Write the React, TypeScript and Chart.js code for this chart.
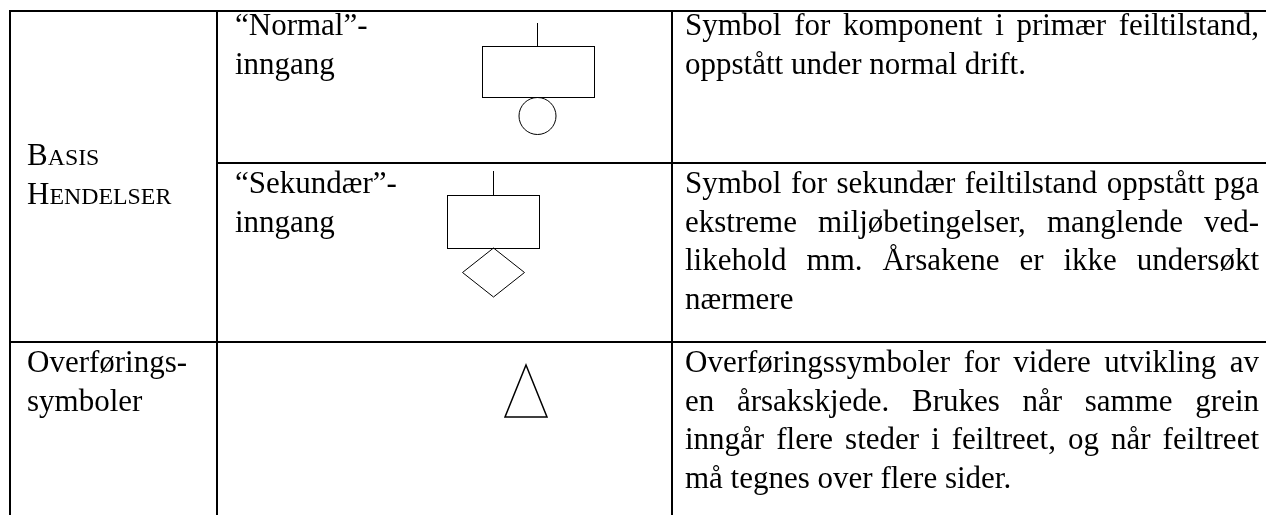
import React, { useEffect, useRef } from "react";
import { Chart, registerables } from "chart.js";

Chart.register(...registerables);

// ---- content ----
const groupLabels: string[][] = [
  ["Basis", "Hendelser"],
  ["Overførings-", "symboler"],
];
const groupSmallCaps: boolean[] = [true, false];
const entryNames: string[][] = [["“Normal”-", "inngang"], ["“Sekundær”-", "inngang"], []];
const symbolKinds: string[] = ["normal", "secondary", "transfer"];
const descriptions: string[][] = [
  ["Symbol for komponent i primær feiltilstand,", "oppstått under normal drift."],
  [
    "Symbol for sekundær feiltilstand oppstått pga",
    "ekstreme miljøbetingelser, manglende ved-",
    "likehold mm. Årsakene er ikke undersøkt",
    "nærmere",
  ],
  [
    "Overføringssymboler for videre utvikling av",
    "en årsakskjede. Brukes når samme grein",
    "inngår flere steder i feiltreet, og når feiltreet",
    "må tegnes over flere sider.",
  ],
];

// ---- layout (pixel units of the hidden linear scales) ----
const W = 1266;
const H = 515;
const LAYOUT = {
  colX: [10, 217, 672, 1280],
  rowY: [11, 163, 342, 540],
  textX: [27, 235, 685],
  textRight: 1259,
  rowBaseline: [35, 193, 372],
  groupBaseline: [165, 372],
  lineH: 38.5,
  fontSize: 31,
  smallCapsRatio: 0.77,
  symbolX: [537, 493, 526],
};
const FONT_FAMILY = '"Liberation Serif", "Times New Roman", serif';

function drawSmallCaps(ctx: CanvasRenderingContext2D, text: string, x: number, y: number, size: number) {
  const first = text.charAt(0).toUpperCase();
  const rest = text.slice(1).toUpperCase();
  ctx.font = `${size}px ${FONT_FAMILY}`;
  ctx.fillText(first, x, y);
  const w = ctx.measureText(first).width;
  ctx.font = `${size * LAYOUT.smallCapsRatio}px ${FONT_FAMILY}`;
  ctx.fillText(rest, x + w, y);
}

function drawJustified(ctx: CanvasRenderingContext2D, line: string, x: number, right: number, y: number, justify: boolean) {
  if (!justify) {
    ctx.fillText(line, x, y);
    return;
  }
  const words = line.split(" ");
  const widths = words.map((w) => ctx.measureText(w).width);
  const total = widths.reduce((a, b) => a + b, 0);
  const gap = words.length > 1 ? (right - x - total) / (words.length - 1) : 0;
  let cx = x;
  words.forEach((w, i) => {
    ctx.fillText(w, cx, y);
    cx += widths[i] + gap;
  });
}

const tablePlugin = {
  id: "tablePlugin",
  afterDraw(chart: any) {
    const ctx: CanvasRenderingContext2D = chart.ctx;
    const sx = chart.scales.x;
    const sy = chart.scales.y;
    const X = (v: number) => sx.getPixelForValue(v);
    const Y = (v: number) => sy.getPixelForValue(v);
    const L = LAYOUT;
    ctx.save();

    // borders
    ctx.strokeStyle = "#000";
    ctx.lineWidth = 2;
    ctx.lineCap = "butt";
    const seg = (x1: number, y1: number, x2: number, y2: number) => {
      ctx.beginPath();
      ctx.moveTo(X(x1), Y(y1));
      ctx.lineTo(X(x2), Y(y2));
      ctx.stroke();
    };
    seg(L.colX[0] - 1, L.rowY[0], L.colX[3], L.rowY[0]);
    seg(L.colX[1], L.rowY[1], L.colX[3], L.rowY[1]);
    seg(L.colX[0] - 1, L.rowY[2], L.colX[3], L.rowY[2]);
    for (let c = 0; c < 3; c++) seg(L.colX[c], L.rowY[0] - 1, L.colX[c], L.rowY[3]);

    // text
    ctx.fillStyle = "#000";
    ctx.textBaseline = "alphabetic";
    ctx.textAlign = "left";
    const fs = L.fontSize;

    groupLabels.forEach((lines, g) => {
      lines.forEach((ln, i) => {
        const y = Y(L.groupBaseline[g] + i * L.lineH);
        if (groupSmallCaps[g]) drawSmallCaps(ctx, ln, X(L.textX[0]), y, fs);
        else {
          ctx.font = `${fs}px ${FONT_FAMILY}`;
          ctx.fillText(ln, X(L.textX[0]), y);
        }
      });
    });

    ctx.font = `${fs}px ${FONT_FAMILY}`;
    entryNames.forEach((lines, r) => {
      lines.forEach((ln, i) => {
        ctx.fillText(ln, X(L.textX[1]), Y(L.rowBaseline[r] + i * L.lineH));
      });
    });

    descriptions.forEach((lines, r) => {
      lines.forEach((ln, i) => {
        drawJustified(ctx, ln, X(L.textX[2]), X(L.textRight), Y(L.rowBaseline[r] + i * L.lineH), i < lines.length - 1);
      });
    });

    // symbols
    ctx.lineWidth = 1;
    ctx.strokeStyle = "#000";
    symbolKinds.forEach((kind, r) => {
      const cx = L.symbolX[r];
      if (kind === "normal") {
        ctx.beginPath();
        ctx.moveTo(X(cx) + 0.5, Y(23));
        ctx.lineTo(X(cx) + 0.5, Y(46));
        ctx.stroke();
        ctx.strokeRect(X(cx - 55) + 0.5, Y(46) + 0.5, 112, 51);
        ctx.beginPath();
        ctx.arc(X(cx) + 0.5, Y(116), 18.5, 0, Math.PI * 2);
        ctx.stroke();
      } else if (kind === "secondary") {
        ctx.beginPath();
        ctx.moveTo(X(cx) + 0.5, Y(171));
        ctx.lineTo(X(cx) + 0.5, Y(195));
        ctx.stroke();
        ctx.strokeRect(X(cx - 46) + 0.5, Y(195) + 0.5, 92, 53);
        ctx.beginPath();
        ctx.moveTo(X(cx) + 0.5, Y(248));
        ctx.lineTo(X(cx + 31) + 0.5, Y(272.5));
        ctx.lineTo(X(cx) + 0.5, Y(297));
        ctx.lineTo(X(cx - 31) + 0.5, Y(272.5));
        ctx.closePath();
        ctx.stroke();
      } else if (kind === "transfer") {
        ctx.lineWidth = 1.5;
        ctx.beginPath();
        ctx.moveTo(X(cx), Y(365));
        ctx.lineTo(X(cx + 21), Y(417));
        ctx.lineTo(X(cx - 21), Y(417));
        ctx.closePath();
        ctx.stroke();
      }
    });

    ctx.restore();
  },
};

export default function App() {
  const ref = useRef<HTMLCanvasElement | null>(null);
  useEffect(() => {
    document.body.style.margin = "0";
    const canvas = ref.current;
    if (!canvas) return;
    const chart = new Chart(canvas, {
      type: "scatter",
      data: { datasets: [{ data: [], pointRadius: 0 }] },
      options: {
        animation: false,
        responsive: false,
        maintainAspectRatio: false,
        devicePixelRatio: 1,
        layout: { padding: 0 },
        plugins: { legend: { display: false }, tooltip: { enabled: false } },
        scales: {
          x: { type: "linear", min: 0, max: W, display: false },
          y: { type: "linear", min: 0, max: H, reverse: true, display: false },
        },
      },
      plugins: [tablePlugin],
    });
    return () => chart.destroy();
  }, []);
  return (
    <div style={{ position: "fixed", left: 0, top: 0, width: W, height: H, background: "#fff" }}>
      <canvas ref={ref} width={W} height={H} style={{ display: "block", width: W, height: H }} />
    </div>
  );
}
